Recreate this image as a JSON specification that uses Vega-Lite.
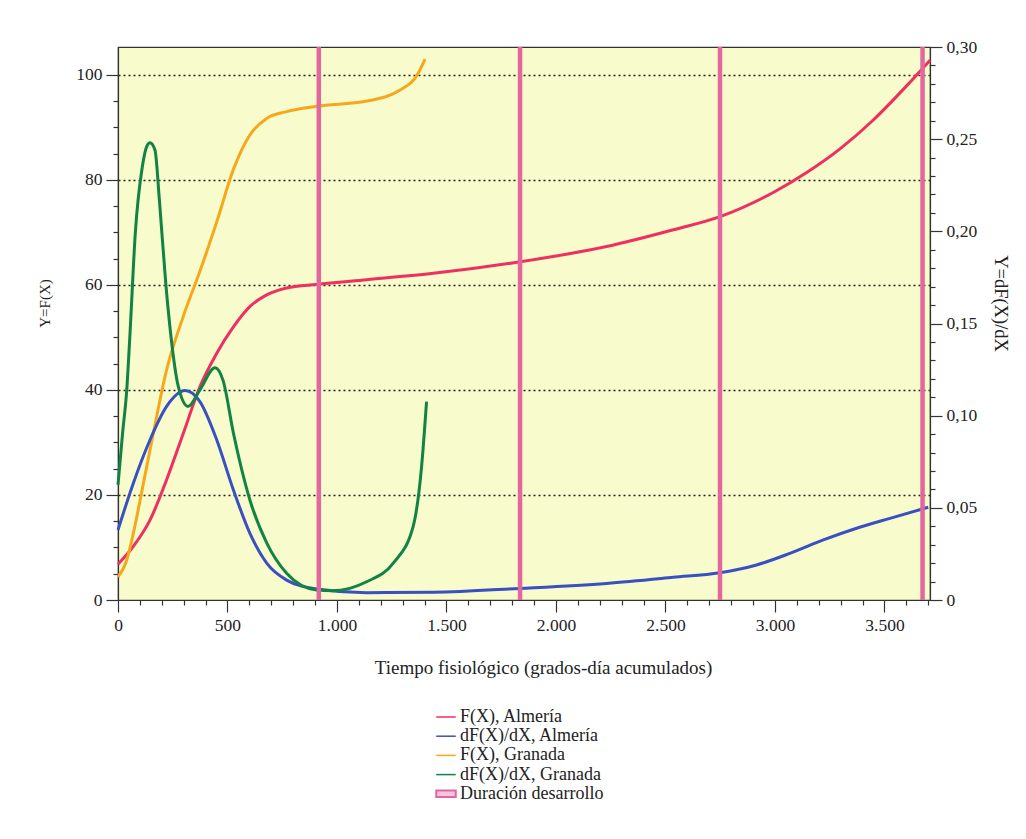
{
  "$schema": "https://vega.github.io/schema/vega-lite/v6.json",
  "width": 812,
  "height": 553,
  "autosize": {"type": "none"},
  "padding": {"left": 118, "top": 47, "right": 96, "bottom": 239},
  "background": "white",
  "config": {
    "font": "Liberation Serif",
    "view": {"fill": "#f8fbcb", "stroke": "#333", "strokeWidth": 1.2},
    "axis": {"labelFont": "Liberation Serif", "titleFont": "Liberation Serif", "labelColor": "#222", "titleColor": "#222", "domainColor": "#333", "tickColor": "#333", "labelFontSize": 17.5, "titleFontSize": 19, "titleFontWeight": "normal", "domainWidth": 1.2, "tickWidth": 1.2, "labelOverlap": false},
    "legend": {"labelFont": "Liberation Serif", "labelFontSize": 18, "labelColor": "#222"}
  },
  "datasets": {
    "F": [
      {"serie": "F(X), Almería", "x": 0, "y": 6.8},
      {"serie": "F(X), Almería", "x": 70, "y": 10.2},
      {"serie": "F(X), Almería", "x": 146, "y": 15.2},
      {"serie": "F(X), Almería", "x": 222, "y": 22.9},
      {"serie": "F(X), Almería", "x": 298, "y": 31.7},
      {"serie": "F(X), Almería", "x": 374, "y": 40.6},
      {"serie": "F(X), Almería", "x": 451, "y": 47.0},
      {"serie": "F(X), Almería", "x": 527, "y": 52.0},
      {"serie": "F(X), Almería", "x": 603, "y": 55.9},
      {"serie": "F(X), Almería", "x": 679, "y": 58.1},
      {"serie": "F(X), Almería", "x": 770, "y": 59.4},
      {"serie": "F(X), Almería", "x": 907, "y": 60.1},
      {"serie": "F(X), Almería", "x": 1135, "y": 61.0},
      {"serie": "F(X), Almería", "x": 1440, "y": 62.2},
      {"serie": "F(X), Almería", "x": 1836, "y": 64.4},
      {"serie": "F(X), Almería", "x": 2231, "y": 67.3},
      {"serie": "F(X), Almería", "x": 2536, "y": 70.5},
      {"serie": "F(X), Almería", "x": 2749, "y": 73.0},
      {"serie": "F(X), Almería", "x": 2992, "y": 77.6},
      {"serie": "F(X), Almería", "x": 3145, "y": 81.4},
      {"serie": "F(X), Almería", "x": 3297, "y": 85.9},
      {"serie": "F(X), Almería", "x": 3449, "y": 91.4},
      {"serie": "F(X), Almería", "x": 3601, "y": 97.9},
      {"serie": "F(X), Almería", "x": 3708, "y": 102.8},
      {"serie": "F(X), Granada", "x": 0, "y": 4.4},
      {"serie": "F(X), Granada", "x": 40, "y": 7.6},
      {"serie": "F(X), Granada", "x": 70, "y": 12.7},
      {"serie": "F(X), Granada", "x": 116, "y": 22.2},
      {"serie": "F(X), Granada", "x": 161, "y": 31.7},
      {"serie": "F(X), Granada", "x": 222, "y": 43.8},
      {"serie": "F(X), Granada", "x": 298, "y": 54.0},
      {"serie": "F(X), Granada", "x": 374, "y": 62.6},
      {"serie": "F(X), Granada", "x": 451, "y": 72.0},
      {"serie": "F(X), Granada", "x": 527, "y": 82.0},
      {"serie": "F(X), Granada", "x": 603, "y": 88.6},
      {"serie": "F(X), Granada", "x": 679, "y": 91.7},
      {"serie": "F(X), Granada", "x": 770, "y": 93.0},
      {"serie": "F(X), Granada", "x": 907, "y": 94.0},
      {"serie": "F(X), Granada", "x": 1136, "y": 95.0},
      {"serie": "F(X), Granada", "x": 1288, "y": 97.1},
      {"serie": "F(X), Granada", "x": 1371, "y": 100.3},
      {"serie": "F(X), Granada", "x": 1402, "y": 103.0}
    ],
    "dF": [
      {"serie": "dF(X)/dX, Almería", "x": 0, "y": 0.038},
      {"serie": "dF(X)/dX, Almería", "x": 70, "y": 0.0634},
      {"serie": "dF(X)/dX, Almería", "x": 146, "y": 0.0868},
      {"serie": "dF(X)/dX, Almería", "x": 222, "y": 0.105},
      {"serie": "dF(X)/dX, Almería", "x": 306, "y": 0.1136},
      {"serie": "dF(X)/dX, Almería", "x": 374, "y": 0.1076},
      {"serie": "dF(X)/dX, Almería", "x": 451, "y": 0.0868},
      {"serie": "dF(X)/dX, Almería", "x": 527, "y": 0.0597},
      {"serie": "dF(X)/dX, Almería", "x": 603, "y": 0.036},
      {"serie": "dF(X)/dX, Almería", "x": 679, "y": 0.020},
      {"serie": "dF(X)/dX, Almería", "x": 770, "y": 0.0108},
      {"serie": "dF(X)/dX, Almería", "x": 907, "y": 0.006},
      {"serie": "dF(X)/dX, Almería", "x": 1135, "y": 0.0040},
      {"serie": "dF(X)/dX, Almería", "x": 1440, "y": 0.0042},
      {"serie": "dF(X)/dX, Almería", "x": 1836, "y": 0.0063},
      {"serie": "dF(X)/dX, Almería", "x": 2231, "y": 0.009},
      {"serie": "dF(X)/dX, Almería", "x": 2536, "y": 0.0123},
      {"serie": "dF(X)/dX, Almería", "x": 2749, "y": 0.0148},
      {"serie": "dF(X)/dX, Almería", "x": 2916, "y": 0.019},
      {"serie": "dF(X)/dX, Almería", "x": 3068, "y": 0.0253},
      {"serie": "dF(X)/dX, Almería", "x": 3221, "y": 0.0326},
      {"serie": "dF(X)/dX, Almería", "x": 3373, "y": 0.0389},
      {"serie": "dF(X)/dX, Almería", "x": 3525, "y": 0.0443},
      {"serie": "dF(X)/dX, Almería", "x": 3700, "y": 0.0503},
      {"serie": "dF(X)/dX, Granada", "x": 0, "y": 0.0624},
      {"serie": "dF(X)/dX, Granada", "x": 21, "y": 0.0906},
      {"serie": "dF(X)/dX, Granada", "x": 40, "y": 0.114},
      {"serie": "dF(X)/dX, Granada", "x": 55, "y": 0.145},
      {"serie": "dF(X)/dX, Granada", "x": 79, "y": 0.199},
      {"serie": "dF(X)/dX, Granada", "x": 111, "y": 0.235},
      {"serie": "dF(X)/dX, Granada", "x": 131, "y": 0.246},
      {"serie": "dF(X)/dX, Granada", "x": 146, "y": 0.248},
      {"serie": "dF(X)/dX, Granada", "x": 169, "y": 0.244},
      {"serie": "dF(X)/dX, Granada", "x": 189, "y": 0.217},
      {"serie": "dF(X)/dX, Granada", "x": 218, "y": 0.172},
      {"serie": "dF(X)/dX, Granada", "x": 240, "y": 0.145},
      {"serie": "dF(X)/dX, Granada", "x": 275, "y": 0.116},
      {"serie": "dF(X)/dX, Granada", "x": 320, "y": 0.105},
      {"serie": "dF(X)/dX, Granada", "x": 374, "y": 0.114},
      {"serie": "dF(X)/dX, Granada", "x": 443, "y": 0.126},
      {"serie": "dF(X)/dX, Granada", "x": 480, "y": 0.119},
      {"serie": "dF(X)/dX, Granada", "x": 527, "y": 0.0906},
      {"serie": "dF(X)/dX, Granada", "x": 603, "y": 0.054},
      {"serie": "dF(X)/dX, Granada", "x": 679, "y": 0.031},
      {"serie": "dF(X)/dX, Granada", "x": 770, "y": 0.0145},
      {"serie": "dF(X)/dX, Granada", "x": 907, "y": 0.0054},
      {"serie": "dF(X)/dX, Granada", "x": 982, "y": 0.005},
      {"serie": "dF(X)/dX, Granada", "x": 1135, "y": 0.0099},
      {"serie": "dF(X)/dX, Granada", "x": 1257, "y": 0.020},
      {"serie": "dF(X)/dX, Granada", "x": 1348, "y": 0.040},
      {"serie": "dF(X)/dX, Granada", "x": 1386, "y": 0.072},
      {"serie": "dF(X)/dX, Granada", "x": 1409, "y": 0.1076}
    ],
    "dur": [
      {"serie": "Duración desarrollo", "x": 917},
      {"serie": "Duración desarrollo", "x": 1836},
      {"serie": "Duración desarrollo", "x": 2749},
      {"serie": "Duración desarrollo", "x": 3674}
    ]
  },
  "layer": [
    {
      "data": {"name": "F"},
      "mark": {"type": "line", "interpolate": "monotone", "strokeWidth": 3},
      "encoding": {
        "x": {
          "field": "x", "type": "quantitative",
          "scale": {"domain": [0, 3708], "nice": false, "zero": false},
          "axis": {
            "title": "Tiempo fisiológico (grados-día acumulados)",
            "values": [0,100,200,300,400,500,600,700,800,900,1000,1100,1200,1300,1400,1500,1600,1700,1800,1900,2000,2100,2200,2300,2400,2500,2600,2700,2800,2900,3000,3100,3200,3300,3400,3500,3600,3700],
            "labelExpr": "datum.value % 500 === 0 ? replace(format(datum.value, ','), ',', '.') : ''",
            "tickSize": {"condition": {"test": "datum.value % 500 === 0", "value": 12}, "value": 5},
            "labelPadding": 4,
            "labelOverlap": false,
            "grid": false,
            "labelFlush": false,
            "titlePadding": 25,
            "titleX": 425
          }
        },
        "y": {
          "field": "y", "type": "quantitative",
          "scale": {"domain": [0, 105.3], "nice": false},
          "axis": {
            "orient": "left",
            "title": "Y=F(X)",
            "titleFontSize": 15,
            "values": [0,5,10,15,20,25,30,35,40,45,50,55,60,65,70,75,80,85,90,95,100],
            "labelExpr": "datum.value % 20 === 0 ? format(datum.value, 'd') : ''",
            "tickSize": {"condition": {"test": "datum.value % 20 === 0", "value": 12}, "value": 5},
            "labelPadding": 4,
            "labelOverlap": false,
            "grid": true,
            "gridColor": "#222",
            "gridDash": [2, 3],
            "gridWidth": 1.3,
            "gridOpacity": {"condition": {"test": "datum.value % 20 === 0 && datum.value > 0", "value": 1}, "value": 0},
            "titlePadding": 23,
            "titleY": 256
          }
        },
        "color": {
          "field": "serie", "type": "nominal",
          "scale": {
            "domain": ["F(X), Almería", "dF(X)/dX, Almería", "F(X), Granada", "dF(X)/dX, Granada", "Duración desarrollo"],
            "range": ["#ee2f60", "#3a4fc2", "#f6a81c", "#128245", "#e2679f"]
          },
          "legend": {
            "title": null,
            "orient": "none",
            "legendX": 319,
            "legendY": 661,
            "symbolType": "stroke",
            "symbolSize": 380,
            "symbolStrokeWidth": 1.5,
            "rowPadding": 1.2,
            "labelOffset": 5,
            "encode": {
              "symbols": {
                "update": {
                  "shape": {"signal": "datum.value === 'Duración desarrollo' ? 'M-1,-0.34L1,-0.34L1,0.34L-1,0.34Z' : 'stroke'"},
                  "fill": {"signal": "datum.value === 'Duración desarrollo' ? '#f6c6de' : 'transparent'"},
                  "strokeWidth": {"signal": "datum.value === 'Duración desarrollo' ? 2 : 1.5"}
                }
              }
            }
          }
        }
      }
    },
    {
      "data": {"name": "dF"},
      "mark": {"type": "line", "interpolate": "monotone", "strokeWidth": 3},
      "encoding": {
        "x": {
          "field": "x", "type": "quantitative",
          "axis": {
            "title": "Tiempo fisiológico (grados-día acumulados)",
            "values": [0,100,200,300,400,500,600,700,800,900,1000,1100,1200,1300,1400,1500,1600,1700,1800,1900,2000,2100,2200,2300,2400,2500,2600,2700,2800,2900,3000,3100,3200,3300,3400,3500,3600,3700],
            "labelExpr": "datum.value % 500 === 0 ? replace(format(datum.value, ','), ',', '.') : ''",
            "tickSize": {"condition": {"test": "datum.value % 500 === 0", "value": 12}, "value": 5},
            "labelPadding": 4,
            "labelOverlap": false,
            "grid": false,
            "labelFlush": false,
            "titlePadding": 25,
            "titleX": 425
          }
        },
        "y": {
          "field": "y", "type": "quantitative",
          "scale": {"domain": [0, 0.30], "nice": false},
          "axis": {
            "orient": "right",
            "title": "Y=dF(X)/dX",
            "titleAngle": 90,
            "titleFontSize": 18.5,
            "values": [0,0.01,0.02,0.03,0.04,0.05,0.06,0.07,0.08,0.09,0.1,0.11,0.12,0.13,0.14,0.15,0.16,0.17,0.18,0.19,0.2,0.21,0.22,0.23,0.24,0.25,0.26,0.27,0.28,0.29,0.3],
            "labelExpr": "datum.value === 0 ? '0' : (round(datum.value * 100) % 5 === 0 ? replace(format(datum.value, '.2f'), '.', ',') : '')",
            "tickSize": {"condition": {"test": "round(datum.value * 100) % 5 === 0", "value": 12}, "value": 5},
            "labelPadding": 4,
            "labelOverlap": false,
            "grid": false,
            "titlePadding": 14,
            "titleY": 256
          }
        },
        "color": {"field": "serie", "type": "nominal"}
      }
    },
    {
      "data": {"name": "dur"},
      "mark": {"type": "rule", "strokeWidth": 4.5},
      "encoding": {
        "x": {
          "field": "x", "type": "quantitative",
          "axis": {
            "title": "Tiempo fisiológico (grados-día acumulados)",
            "values": [0,100,200,300,400,500,600,700,800,900,1000,1100,1200,1300,1400,1500,1600,1700,1800,1900,2000,2100,2200,2300,2400,2500,2600,2700,2800,2900,3000,3100,3200,3300,3400,3500,3600,3700],
            "labelExpr": "datum.value % 500 === 0 ? replace(format(datum.value, ','), ',', '.') : ''",
            "tickSize": {"condition": {"test": "datum.value % 500 === 0", "value": 12}, "value": 5},
            "labelPadding": 4,
            "labelOverlap": false,
            "grid": false,
            "labelFlush": false,
            "titlePadding": 25,
            "titleX": 425
          }
        },
        "color": {"field": "serie", "type": "nominal"}
      }
    }
  ],
  "resolve": {"scale": {"y": "independent"}}
}
